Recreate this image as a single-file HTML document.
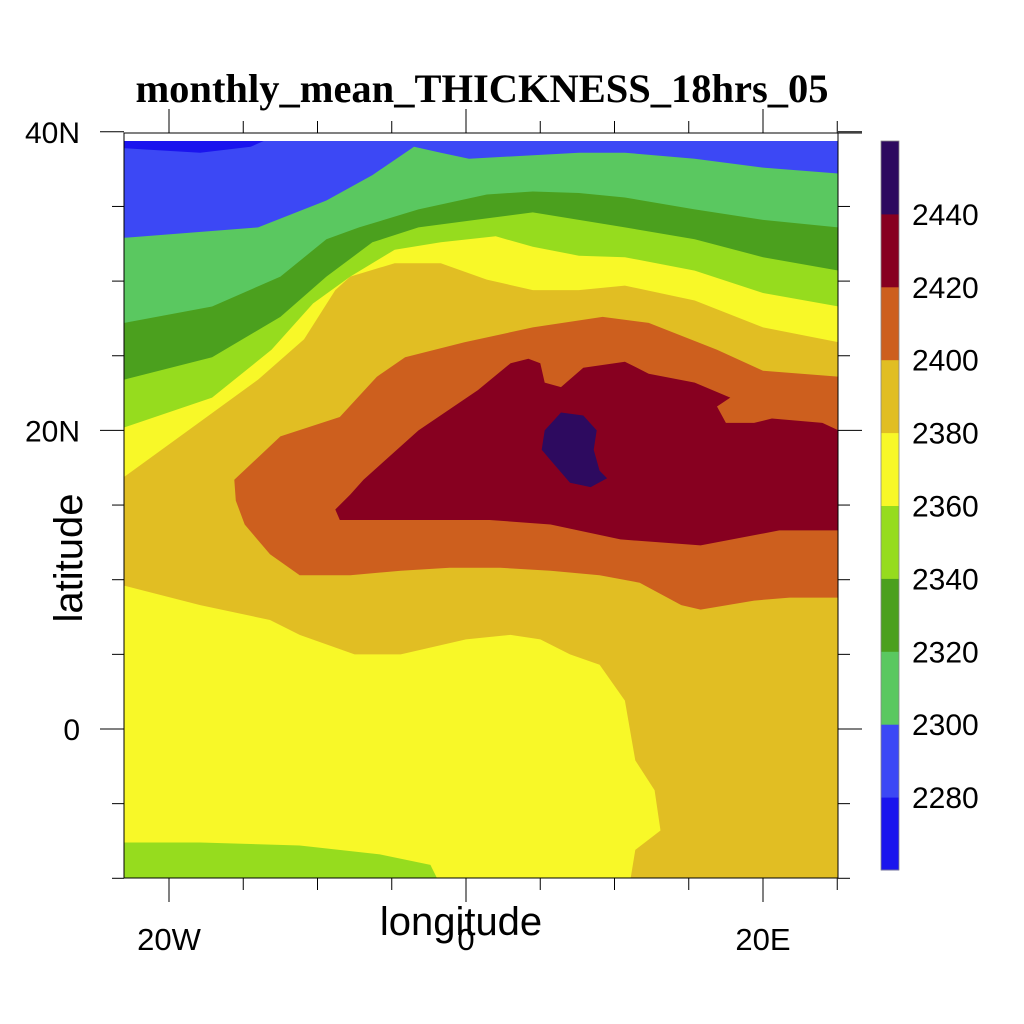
<!DOCTYPE html>
<html><head><meta charset="utf-8"><style>
html,body{margin:0;padding:0;background:#fff;}
svg{display:block;font-family:"Liberation Sans",sans-serif;}
</style></head><body>
<svg id="chart" width="1024" height="1024" viewBox="0 0 1024 1024">
<defs><clipPath id="plotclip"><rect x="124" y="141" width="714" height="737"/></clipPath></defs>
<text x="482" y="102" text-anchor="middle" font-family="Liberation Serif, serif" font-weight="bold" font-size="40.5">monthly_mean_THICKNESS_18hrs_05</text>
<g id="fills" clip-path="url(#plotclip)"></g>
<g id="axes"></g>
<g id="cbar"></g>
<text x="461" y="935" text-anchor="middle" font-size="40">longitude</text>
<text transform="translate(82,558) rotate(-90)" text-anchor="middle" font-size="40">latitude</text>
</svg>
<script>
// contour levels and colours
const levels = [2280,2300,2320,2340,2360,2380,2400,2420,2440];
const colors = ["#1a14ee","#3c48f5","#5ac860","#4ba01e","#96dc1e","#f8f828","#e1be23","#cd5f1e","#870020","#2d0a5f"];
const lonTicks = [-20,0,20];
const lonTickLabels = ["20W","0","20E"];
const latTicks = [0,20,40];
const latTickLabels = ["0","20N","40N"];
// contour regions in [lon,lat], painted in order (band index into colors)
const regionBands = [4,3,2,1,0,6,7,8,9,4];
const regionLG = [[-23,40],[25.1,40],[25.1,28.3],[20,29.2],[15.4,30.7],[10.7,31.6],[7.6,31.7],[4.5,32.3],[2,33],[-1.7,32.6],[-4.8,32.1],[-7.8,30.3],[-10.3,28.5],[-13.1,25.4],[-17.1,22.2],[-23,20.2]];
const regionDG = [[-23,40],[25.1,40],[25.1,30.7],[20,31.6],[15.4,32.8],[10.7,33.6],[7.6,34.1],[4.5,34.6],[1.4,34.2],[-3.2,33.6],[-6.3,32.6],[-9.4,30.3],[-12.5,27.6],[-17.1,24.9],[-23,23.4]];
const regionG = [[-23,40],[25.1,40],[25.1,33.6],[20,34.1],[15.4,34.8],[10.7,35.6],[7.6,35.9],[4.5,36],[1.4,35.8],[-3.2,34.8],[-7.2,33.6],[-9.4,32.8],[-12.5,30.3],[-17.1,28.3],[-23,27.2]];
const regionB = [[-23,40],[25.1,40],[25.1,37.2],[20,37.6],[15.4,38.2],[10.7,38.6],[7.6,38.6],[0.2,38.2],[-1.7,38.6],[-3.5,39],[-6.3,37.1],[-9.4,35.4],[-14,33.6],[-23,32.9]];
const regionDB = [[-23,40],[-12.2,40],[-14.5,39],[-17.9,38.6],[-21.3,38.8],[-23,38.9]];
const regionTan = [[-23,16.9],[-18.7,20],[-14,23.4],[-10.9,26.1],[-8.8,29.4],[-7.8,30.3],[-4.8,31.2],[-1.7,31.2],[1.4,30.1],[4.5,29.4],[7.6,29.4],[10.7,29.7],[15.4,28.7],[20,26.9],[25.1,25.9],[25.1,-10.5],[11,-10.5],[11.4,-8.1],[13.1,-6.8],[12.7,-4.1],[11.4,-2.1],[10.7,1.9],[9,4.3],[7,5],[5,6],[3,6.3],[0,6],[-4.4,5],[-7.5,5],[-11.2,6.3],[-13.2,7.3],[-17.9,8.3],[-23,9.6]];
const regionOr = [[-15.6,16.7],[-12.5,19.6],[-8.5,20.9],[-6,23.6],[-4.1,24.9],[-0.1,25.9],[4.5,26.9],[9.2,27.6],[12.3,27.2],[16.9,25.4],[20,24],[25.1,23.6],[25.1,8.8],[21.8,8.8],[19.4,8.6],[15.8,8],[14.5,8.3],[11.7,9.8],[9,10.3],[5.7,10.6],[2.3,10.8],[-1.1,10.8],[-4.4,10.6],[-7.8,10.3],[-11.2,10.3],[-13.2,11.7],[-14.9,13.7],[-15.5,15.3]];
const regionRed = [[-6.9,16.7],[-3.2,20],[0.8,22.7],[3,24.5],[4.2,24.8],[5,24.5],[5.3,23.2],[6.4,22.9],[7.9,24.2],[10.7,24.6],[12.3,23.8],[15.4,23.2],[17.8,22.2],[16.9,21.6],[17.5,20.5],[19.4,20.5],[20.6,20.8],[24,20.5],[25.1,20],[25.1,13.3],[21.1,13.3],[15.8,12.3],[10.4,12.7],[5.7,13.7],[1.6,14],[-4.4,14],[-8.5,14],[-8.8,14.7],[-7.8,15.7]];
const regionPu = [[6.4,21.2],[7.9,21],[8.8,20],[8.6,18.7],[9,17.3],[9.5,16.8],[8.4,16.2],[7,16.5],[5.7,18],[5.1,18.7],[5.3,20]];
const regionBG = [[-23,-7.6],[-17.9,-7.6],[-11.2,-7.8],[-5.8,-8.4],[-2.4,-9.1],[-1.7,-10.5],[-23,-10.5]];
const regions = [regionLG,regionDG,regionG,regionB,regionDB,regionTan,regionOr,regionRed,regionPu,regionBG];
const regionNames = ["band-2340-2360-north","band-2320-2340","band-2300-2320","band-2280-2300","band-2260-2280","band-2380-2400","band-2400-2420","band-2420-2440","band-2440-2460","band-2340-2360-south"];

const NS="http://www.w3.org/2000/svg";
const X = lon => 466 + lon*14.85;
const Y = lat => 729 - lat*14.93;
function mk(tag, attrs, parent){const e=document.createElementNS(NS,tag);for(const k in attrs)e.setAttribute(k,attrs[k]);parent.appendChild(e);return e;}
const fills=document.getElementById('fills');
const base=mk('rect',{x:124,y:141,width:714,height:737,fill:colors[5]},fills);


regions.forEach((r,i)=>{
  const p=mk('polygon',{points:r.map(q=>X(q[0]).toFixed(1)+','+Y(q[1]).toFixed(1)).join(' '),fill:colors[regionBands[i]]},fills);
  
  
});
const axes=document.getElementById('axes');
mk('rect',{x:124,y:133,width:714,height:745,fill:'none',stroke:'#000','stroke-width':1},axes);
mk('rect',{x:124.5,y:133.5,width:713,height:7.5,fill:'#fff'},axes);
mk('line',{x1:838,y1:133,x2:862,y2:133,stroke:'#000'},axes);
for(let lon=-20;lon<=25;lon+=5){
  const major=lon%20===0, x=X(lon), L=major?24:12;
  mk('line',{x1:x,y1:878,x2:x,y2:878+L,stroke:'#000'},axes);
  mk('line',{x1:x,y1:133,x2:x,y2:133-L,stroke:'#000'},axes);
}
for(let lat=-10;lat<=40;lat+=5){
  const major=lat%20===0, y=Y(lat), L=major?24:12;
  mk('line',{x1:124,y1:y,x2:124-L,y2:y,stroke:'#000'},axes);
  mk('line',{x1:838,y1:y,x2:838+L,y2:y,stroke:'#000'},axes);
}
lonTicks.forEach((v,i)=>{
  const t=mk('text',{x:X(v),y:950,'text-anchor':'middle','font-size':31},axes);
  t.textContent=lonTickLabels[i];
  
  
});
latTicks.forEach((v,i)=>{
  const t=mk('text',{x:80,y:Y(v)+11,'text-anchor':'end','font-size':30},axes);
  t.textContent=latTickLabels[i];
  
  
});
const cb=document.getElementById('cbar');
const cbTop=141, cbH=72.9;
colors.forEach((c,i)=>{
  const r=mk('rect',{x:881,y:cbTop+(colors.length-1-i)*cbH,width:18,height:cbH+0.5,fill:c},cb);
  
  
});
mk('rect',{x:881,y:cbTop,width:18,height:cbH*colors.length,fill:'none',stroke:'#888','stroke-width':0.8},cb);
levels.forEach((v,i)=>{
  const y=cbTop+(colors.length-1-i)*cbH;
  const t=mk('text',{x:912,y:y+11,'font-size':30},cb);
  t.textContent=v;
  
  
});
</script>
</body></html>
